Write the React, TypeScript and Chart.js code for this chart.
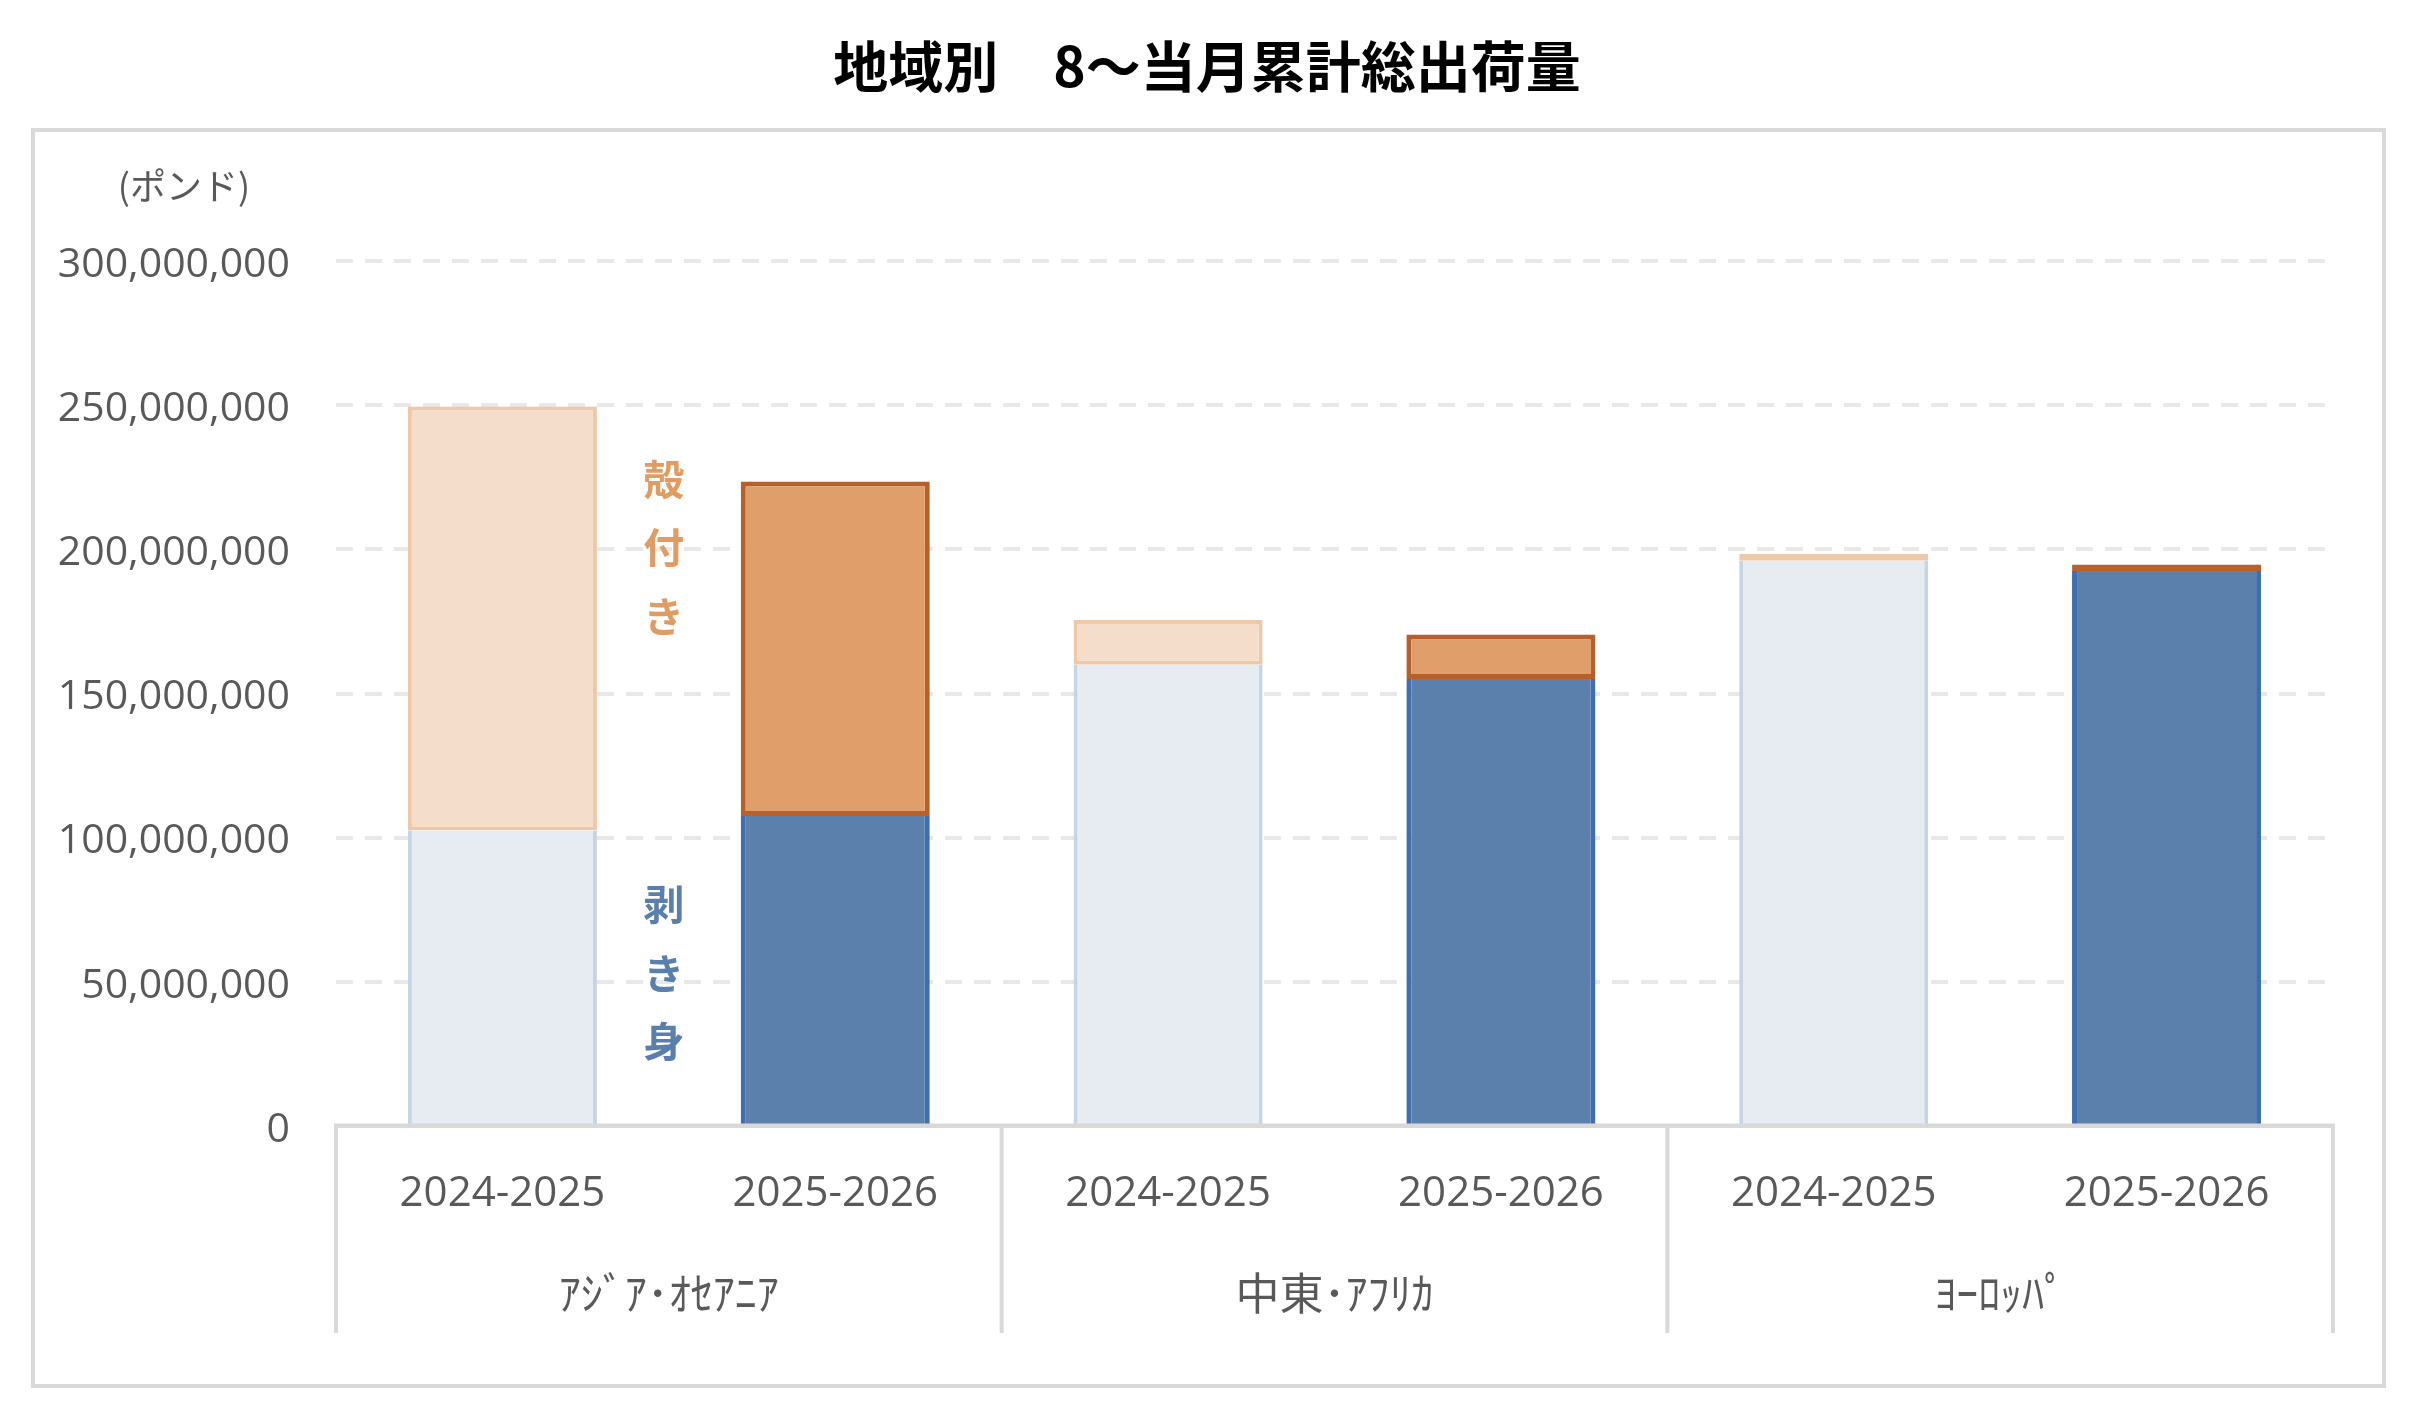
import React, { useEffect, useRef } from 'react';
import { Chart, registerables } from 'chart.js';

Chart.register(...registerables);

// ---------- data ----------
const TITLE = '地域別　8～当月累計総出荷量';
const UNIT_LABEL = '(ポンド)';
const SEASONS = ['2024-2025', '2025-2026', '2024-2025', '2025-2026', '2024-2025', '2025-2026'];
const REGIONS = ['ｱｼﾞｱ･ｵｾｱﾆｱ', '中東･ｱﾌﾘｶ', 'ﾖｰﾛｯﾊﾟ'];
const PEELED = [102.5e6, 107.5e6, 160e6, 155e6, 196e6, 192.5e6];
const IN_SHELL = [147e6, 116e6, 15.5e6, 15.5e6, 2.5e6, 2.2e6];
const Y_MAX = 300e6;
const Y_STEP = 50e6;
const SHELL_LABEL = '殻付き';
const PEELED_LABEL = '剥き身';
// annotation anchor (value units) for the vertical labels
const SHELL_LABEL_CENTER = 200.5e6;
const PEELED_LABEL_CENTER = 53e6;
const LABEL_CHAR_STEP = 23.8e6;

// ---------- styles ----------
const FONT = '"Open Sans", "Noto Sans CJK JP", sans-serif';
const JP_FONT = '"Noto Sans CJK JP", sans-serif';
const TEXT_GREY = '#595959';
const AXIS_GREY = '#D9D9D9';
const LIGHT = { peelFill: '#E7ECF3', peelBorder: '#C6D4E3', shellFill: '#F5DDCB', shellBorder: '#EFC8A8', bw: 4 };
const DARK = { peelFill: '#5B80AB', peelBorder: '#3F6FAF', shellFill: '#E09E6A', shellBorder: '#B8602A', bw: 5 };
const styleFor = (i: number) => (SEASONS[i] === '2024-2025' ? LIGHT : DARK);

const decorPlugin = {
  id: 'decor',
  beforeDraw(chart: any) {
    const ctx = chart.ctx;
    ctx.save();
    ctx.fillStyle = '#ffffff';
    ctx.fillRect(0, 0, chart.width, chart.height);
    ctx.strokeStyle = AXIS_GREY;
    ctx.lineWidth = 4;
    ctx.strokeRect(33, 130, 2351, 1256);
    ctx.fillStyle = '#000000';
    ctx.font = `bold 55px ${JP_FONT}`;
    ctx.textAlign = 'center';
    ctx.textBaseline = 'middle';
    ctx.fillText(TITLE, 1207, 66);
    ctx.fillStyle = TEXT_GREY;
    ctx.font = `36px ${JP_FONT}`;
    ctx.fillText(UNIT_LABEL, 184, 186);
    ctx.restore();
  },
  afterDatasetsDraw(chart: any) {
    const ctx = chart.ctx;
    const xs = chart.scales.x;
    const ys = chart.scales.y;
    const base = ys.getPixelForValue(0);
    const bottom = 1333;
    ctx.save();
    ctx.fillStyle = AXIS_GREY;
    ctx.fillRect(xs.left - 2, base - 2.5, xs.right - xs.left + 4, 4.5);
    const bounds: number[] = [xs.left];
    for (let g = 1; g < REGIONS.length; g++) {
      bounds.push((xs.getPixelForValue(2 * g - 1) + xs.getPixelForValue(2 * g)) / 2);
    }
    bounds.push(xs.right);
    bounds.forEach((bx) => ctx.fillRect(bx - 2, base - 2, 4, bottom - base + 2));
    ctx.fillStyle = TEXT_GREY;
    ctx.font = `44px ${JP_FONT}`;
    ctx.textAlign = 'center';
    ctx.textBaseline = 'middle';
    REGIONS.forEach((r, g) => {
      const cx = (xs.getPixelForValue(2 * g) + xs.getPixelForValue(2 * g + 1)) / 2;
      ctx.fillText(r, cx, 1293);
    });
    // vertical annotations
    const ax = (xs.getPixelForValue(0) + xs.getPixelForValue(1)) / 2 - 5;
    ctx.font = `bold 41px ${JP_FONT}`;
    const drawVert = (text: string, center: number, color: string) => {
      ctx.fillStyle = color;
      const chars = Array.from(text);
      chars.forEach((c, k) => {
        const v = center + (((chars.length - 1) / 2) - k) * LABEL_CHAR_STEP;
        ctx.fillText(c, ax, ys.getPixelForValue(v));
      });
    };
    drawVert(SHELL_LABEL, SHELL_LABEL_CENTER, '#E09C63');
    drawVert(PEELED_LABEL, PEELED_LABEL_CENTER, '#5A7FAC');
    ctx.restore();
  },
};

export default function App() {
  const ref = useRef<HTMLCanvasElement>(null);
  useEffect(() => {
    if (!ref.current) return;
    const chart = new Chart(ref.current, {
      type: 'bar',
      data: {
        labels: SEASONS,
        datasets: [
          {
            label: PEELED_LABEL,
            data: PEELED,
            backgroundColor: SEASONS.map((_, i) => styleFor(i).peelFill),
            borderColor: SEASONS.map((_, i) => styleFor(i).peelBorder),
            borderWidth: (c: any) => {
              const w = styleFor(c.dataIndex).bw;
              return { top: 0, bottom: 0, left: w, right: w };
            },
            borderSkipped: false,
            stack: 's',
          },
          {
            label: SHELL_LABEL,
            data: IN_SHELL,
            backgroundColor: SEASONS.map((_, i) => styleFor(i).shellFill),
            borderColor: SEASONS.map((_, i) => styleFor(i).shellBorder),
            borderWidth: (c: any) => styleFor(c.dataIndex).bw,
            borderSkipped: false,
            stack: 's',
          },
        ],
      },
      options: {
        animation: false,
        responsive: false,
        devicePixelRatio: 1,
        layout: { padding: { top: 261, right: 87, bottom: 0, left: 0 } },
        plugins: { legend: { display: false }, tooltip: { enabled: false } },
        datasets: { bar: { categoryPercentage: 1, barPercentage: 0.568 } } as any,
        scales: {
          x: {
            stacked: true,
            grid: { display: false },
            border: { display: false },
            ticks: {
              color: TEXT_GREY,
              font: { family: FONT, size: 42 },
              padding: 35,
              maxRotation: 0,
              autoSkip: false,
            },
            afterFit: (s: any) => {
              s.height = 292;
            },
          },
          y: {
            stacked: true,
            min: 0,
            max: Y_MAX,
            grid: { color: '#E8E8E8', lineWidth: 4, drawTicks: false },
            border: { display: false, dash: [17, 12] },
            ticks: {
              stepSize: Y_STEP,
              color: TEXT_GREY,
              font: { family: FONT, size: 41 },
              padding: 46,
              labelOffset: 4,
              callback: (v: any) => Number(v).toLocaleString('en-US'),
            },
            afterFit: (s: any) => {
              s.width = 336;
            },
          },
        },
      },
      plugins: [decorPlugin],
    });
    return () => chart.destroy();
  }, []);
  return (
    <div style={{ position: 'absolute', left: 0, top: 0, width: 2420, height: 1418, background: '#fff' }}>
      <canvas ref={ref} width={2420} height={1418} style={{ width: 2420, height: 1418, display: 'block' }} />
    </div>
  );
}
